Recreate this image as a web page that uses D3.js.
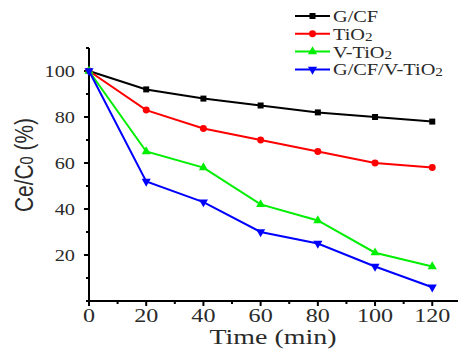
<!DOCTYPE html>
<html>
<head>
<meta charset="utf-8">
<script src="https://cdn.jsdelivr.net/npm/d3@7"></script>
<style>
  body { margin: 0; background: #fff; }
</style>
</head>
<body>
<svg id="chart" width="459" height="349"></svg>
<script>
// data
const times = [0, 20, 40, 60, 80, 100, 120];
const gcf = [100, 92, 88, 85, 82, 80, 78];
const tio2 = [100, 83, 75, 70, 65, 60, 58];
const vtio2 = [100, 65, 58, 42, 35, 21, 15];
const gcfvtio2 = [100, 52, 43, 30, 25, 15, 6];
const xTicks = [0, 20, 40, 60, 80, 100, 120];
const yTicks = [20, 40, 60, 80, 100];

const series = [
  { name: ['G/CF'], values: gcf, color: '#000000', symbol: d3.symbolSquare, rot: 0 },
  { name: ['Ti', 'O', '2'], values: tio2, color: '#ff0000', symbol: d3.symbolCircle, rot: 0 },
  { name: ['V-Ti', 'O', '2'], values: vtio2, color: '#00ee00', symbol: d3.symbolTriangle, rot: 0 },
  { name: ['G/CF/V-Ti', 'O', '2'], values: gcfvtio2, color: '#0000ff', symbol: d3.symbolTriangle, rot: 180 }
];

const serif = 'Liberation Serif, DejaVu Serif, serif';
const sans = 'Liberation Sans, Arial, sans-serif';
const stretch = 1.27; // the picture is wider than it is tall

const svg = d3.select('#chart');

const x = d3.scaleLinear().domain([0, 129]).range([89, 458]);
const y = d3.scaleLinear().domain([0, 110]).range([301, 48]);

// stretched text helper
function label(g, tx, ty, txt, size, anchor, family) {
  return g.append('text')
    .attr('transform', 'translate(' + tx + ',' + ty + ') scale(' + stretch + ',1)')
    .attr('text-anchor', anchor)
    .attr('font-family', family || serif)
    .attr('font-size', size)
    .attr('fill', '#2a2a2a')
    .text(txt);
}

// axes
const xAxis = svg.append('g').attr('transform', 'translate(0,301)');
xAxis.append('line').attr('x1', x(0) - 1).attr('x2', x(129)).attr('stroke', '#000').attr('stroke-width', 2);
d3.range(0, 130, 10).forEach(v => {
  const major = v % 20 === 0;
  xAxis.append('line')
    .attr('x1', x(v)).attr('x2', x(v))
    .attr('y1', 0).attr('y2', major ? 5 : 3)
    .attr('stroke', '#000').attr('stroke-width', 2);
});
xTicks.forEach(v => label(xAxis, x(v), 21, v, 19, 'middle'));

const yAxis = svg.append('g').attr('transform', 'translate(89,0)');
yAxis.append('line').attr('y1', y(0)).attr('y2', y(110)).attr('stroke', '#000').attr('stroke-width', 2);
d3.range(0, 111, 10).forEach(v => {
  const major = v % 20 === 0 && v > 0;
  yAxis.append('line')
    .attr('y1', y(v)).attr('y2', y(v))
    .attr('x1', 0).attr('x2', major ? -5 : -3)
    .attr('stroke', '#000').attr('stroke-width', 2);
});
yTicks.forEach(v => label(yAxis, -14, y(v) + 5.5, v, 16, 'end'));

// axis titles
label(svg, 273, 344, 'Time (min)', 22, 'middle');

const yt = svg.append('text')
  .attr('transform', 'translate(33,165) scale(1.3,1) rotate(-90)')
  .attr('text-anchor', 'middle')
  .attr('font-family', sans)
  .attr('font-size', 20)
  .attr('textLength', 94)
  .attr('lengthAdjust', 'spacingAndGlyphs')
  .attr('fill', '#2a2a2a');
yt.append('tspan').text('Ce/C');
yt.append('tspan').attr('font-size', 14).text('0');
yt.append('tspan').text(' (%)');

// lines and markers
const line = d3.line().x((d, i) => x(times[i])).y(d => y(d));
series.forEach(s => {
  svg.append('path')
    .attr('d', line(s.values))
    .attr('fill', 'none')
    .attr('stroke', s.color)
    .attr('stroke-width', 2);
  svg.selectAll(null).data(s.values).enter().append('path')
    .attr('d', d3.symbol().type(s.symbol).size(s.symbol === d3.symbolCircle ? 38 : 36))
    .attr('transform', (d, i) => 'translate(' + x(times[i]) + ',' + y(d) + ') rotate(' + s.rot + ')')
    .attr('fill', s.color);
});

// legend
const legend = svg.append('g');
series.forEach((s, i) => {
  const ly = 16 + i * 17.8;
  legend.append('line')
    .attr('x1', 295).attr('x2', 330).attr('y1', ly).attr('y2', ly)
    .attr('stroke', s.color).attr('stroke-width', 2);
  legend.append('path')
    .attr('d', d3.symbol().type(s.symbol).size(s.symbol === d3.symbolCircle ? 38 : 36))
    .attr('transform', 'translate(312.5,' + ly + ') rotate(' + s.rot + ')')
    .attr('fill', s.color);
  const t = label(legend, 333, ly + 6, null, 16, 'start');
  t.append('tspan').text(s.name[0]);
  if (s.name.length > 1) {
    t.append('tspan').text(s.name[1]);
    t.append('tspan').attr('font-size', 12).attr('dy', 1).text(s.name[2]);
  }
});
</script>
</body>
</html>
